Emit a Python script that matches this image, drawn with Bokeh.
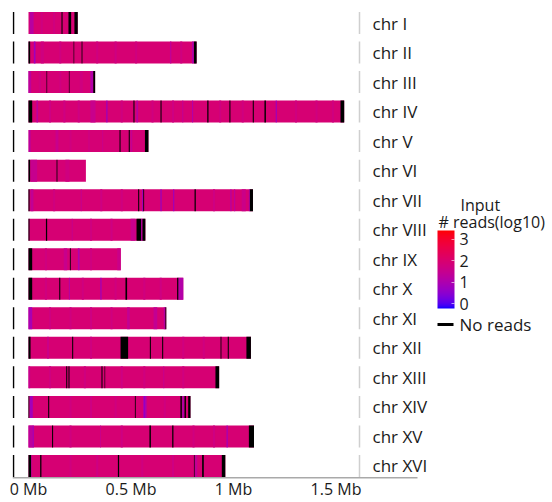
import numpy as np
from bokeh.plotting import figure
from bokeh.models import ColumnDataSource, LinearColorMapper, ColorBar, FixedTicker, Range1d
from bokeh.transform import transform
from bokeh.core.properties import value
from bokeh.embed import file_html
from bokeh.resources import INLINE

NR = float("nan")  # no reads

CHROMS = ["chr I", "chr II", "chr III", "chr IV", "chr V", "chr VI", "chr VII", "chr VIII",
          "chr IX", "chr X", "chr XI", "chr XII", "chr XIII", "chr XIV", "chr XV", "chr XVI"]
CHROM_LEN_KB = [240, 820, 325, 1540, 585, 280, 1095, 570, 450, 755, 672, 1085, 930, 790, 1100, 960]
BASE_LOG10 = [1.95, 1.95, 1.9, 1.95, 1.9, 1.9, 1.95, 1.95, 1.9, 1.95, 1.95, 1.95, 1.95, 1.95, 1.95, 1.95]

# (start kb, end kb, log10 reads); NR = no reads
FEAT_I = [(6, 25, 1.2), (60, 70, 1.75), (120, 130, 1.75), (161, 166, NR), (195, 208, NR), (224, 240, NR)]
FEAT_II = [(0, 8, NR), (26, 34, 0.7), (60, 75, 1.75), (150, 160, 1.75), (220, 223, NR), (259, 263, NR),
           (330, 340, 1.75), (420, 430, 1.7), (520, 530, 1.75), (690, 697, 1.4), (740, 750, 1.75),
           (798, 806, 1.0), (807, 820, NR)]
FEAT_III = [(0, 3, 1.0), (3, 13, 1.3), (50, 60, 1.75), (88, 91, NR), (150, 160, 1.75), (197, 200, NR),
            (250, 265, 1.75), (302, 316, 1.1), (316, 325, NR)]
FEAT_IV = [(0, 18, NR), (39, 46, 1.2), (100, 110, 1.7), (170, 180, 1.7), (240, 250, 1.7), (302, 327, 1.55),
           (380, 385, 0.5), (450, 460, 1.75), (512, 517, NR), (527, 533, 1.0), (600, 610, 1.75), (644, 649, NR),
           (700, 710, 1.7), (750, 755, 1.4), (798, 803, 1.0), (872, 878, NR), (930, 940, 1.75), (980, 985, NR),
           (1040, 1050, 1.75), (1094, 1099, NR), (1151, 1158, NR), (1206, 1211, 0.6), (1300, 1310, 1.75),
           (1400, 1410, 1.75), (1480, 1490, 1.75), (1522, 1540, NR)]
FEAT_V = [(1, 10, 1.2), (132, 146, 1.55), (200, 210, 1.75), (290, 300, 1.75), (360, 364, 1.5), (444, 449, NR),
          (489, 494, NR), (498, 506, 1.45), (568, 585, NR)]
FEAT_VI = [(0, 8, NR), (10, 42, 1.5), (137, 141, NR), (180, 200, 1.75)]
FEAT_VII = [(0, 5, NR), (10, 24, 1.4), (120, 130, 1.75), (255, 259, 1.4), (350, 360, 1.7), (450, 460, 1.75),
            (535, 540, NR), (554, 560, 0.8), (560, 564, NR), (644, 649, 0.5), (706, 711, 0.6), (810, 816, NR),
            (900, 910, 1.7), (985, 990, 1.0), (1003, 1008, 1.2), (1040, 1060, 1.6), (1075, 1080, 1.0),
            (1080, 1095, NR)]
FEAT_VIII = [(0, 5, NR), (85, 91, NR), (211, 215, 1.45), (300, 310, 1.75), (400, 410, 1.7), (498, 522, 1.55),
             (527, 550, NR), (550, 556, 1.0), (556, 570, NR)]
FEAT_IX = [(0, 18, NR), (80, 90, 1.75), (172, 189, 1.55), (202, 206, NR), (241, 249, 1.0), (300, 310, 1.75),
           (433, 450, 1.6)]
FEAT_X = [(0, 18, NR), (80, 90, 1.75), (150, 155, NR), (197, 201, 0.9), (260, 270, 1.75), (351, 356, 0.6),
          (420, 430, 1.75), (473, 481, NR), (560, 570, 1.75), (640, 650, 1.7), (725, 732, NR), (732, 755, 1.1)]
FEAT_XI = [(0, 18, 0.9), (100, 110, 1.75), (200, 210, 1.75), (300, 310, 1.7), (400, 410, 1.75), (481, 494, 1.45),
           (610, 628, 1.45), (660, 668, 1.2), (668, 672, NR)]
FEAT_XII = [(0, 10, NR), (91, 99, 1.55), (213, 218, NR), (300, 310, 1.75), (449, 486, NR), (592, 597, NR),
            (652, 657, NR), (750, 760, 1.75), (850, 860, 1.75), (937, 941, NR), (972, 977, NR), (1063, 1085, NR)]
FEAT_XIII = [(0, 8, 1.5), (100, 110, 1.75), (184, 189, NR), (195, 200, NR), (270, 280, 1.75), (356, 361, NR),
             (371, 374, NR), (450, 460, 1.7), (560, 570, 1.75), (658, 662, 1.4), (750, 760, 1.75), (912, 930, NR)]
FEAT_XIV = [(0, 4, NR), (6, 21, 0.8), (96, 101, NR), (200, 210, 1.75), (300, 310, 1.7), (420, 430, 1.75),
            (519, 523, NR), (559, 576, 1.0), (565, 568, 0.4), (660, 670, 1.75), (741, 748, NR), (751, 758, 0.9),
            (761, 768, NR), (779, 790, NR)]
FEAT_XV = [(0, 26, 1.3), (21, 24, 0.5), (115, 120, NR), (200, 210, 1.75), (349, 353, 1.5), (450, 460, 1.7),
           (590, 597, NR), (701, 707, NR), (800, 810, 1.75), (900, 910, 1.7), (966, 972, 0.8), (1075, 1100, NR)]
FEAT_XVI = [(0, 13, NR), (13, 16, 1.2), (57, 63, NR), (200, 210, 1.75), (330, 340, 1.7), (436, 442, NR),
            (550, 560, 1.75), (700, 710, 1.7), (807, 811, NR), (811, 823, 1.4), (847, 855, NR), (943, 960, NR)]

FEATURES = [FEAT_I, FEAT_II, FEAT_III, FEAT_IV, FEAT_V, FEAT_VI, FEAT_VII, FEAT_VIII,
            FEAT_IX, FEAT_X, FEAT_XI, FEAT_XII, FEAT_XIII, FEAT_XIV, FEAT_XV, FEAT_XVI]

X_TICKS_KB = [0, 500, 1000, 1500]
X_TICK_LABELS = ["0 Mb", "0.5 Mb", "1 Mb", "1.5 Mb"]
CBAR_TICKS = [0, 1, 2, 3]
CBAR_LOW, CBAR_HIGH = -0.23, 3.42

FONT = "Open Sans"

# ---------- Lab-interpolated blue -> red palette ----------
_M = np.array([[0.4124, 0.3576, 0.1805], [0.2126, 0.7152, 0.0722], [0.0193, 0.1192, 0.9505]])
_WHITE = np.array([0.95047, 1.0, 1.08883])


def rgb_to_lab(rgb):
    c = np.asarray(rgb, float) / 255.0
    lin = np.where(c <= 0.04045, c / 12.92, ((c + 0.055) / 1.055) ** 2.4)
    xyz = _M @ lin / _WHITE
    f = np.where(xyz > 0.008856, np.cbrt(xyz), 7.787 * xyz + 16 / 116)
    return np.array([116 * f[1] - 16, 500 * (f[0] - f[1]), 200 * (f[1] - f[2])])


def lab_to_hex(lab):
    L, a, b = lab
    fy = (L + 16) / 116
    fx = fy + a / 500
    fz = fy - b / 200
    f = np.array([fx, fy, fz])
    xyz = np.where(f ** 3 > 0.008856, f ** 3, (f - 16 / 116) / 7.787) * _WHITE
    lin = np.linalg.solve(_M, xyz)
    lin = np.clip(lin, 0, 1)
    c = np.where(lin <= 0.0031308, 12.92 * lin, 1.055 * lin ** (1 / 2.4) - 0.055)
    r, g, bb = (np.clip(c, 0, 1) * 255).round().astype(int)
    return "#%02x%02x%02x" % (r, g, bb)


lab_lo = rgb_to_lab([0, 0, 255])
lab_hi = rgb_to_lab([255, 0, 0])
PALETTE = [lab_to_hex(lab_lo + (lab_hi - lab_lo) * t) for t in np.linspace(0, 1, 256)]

mapper = LinearColorMapper(palette=PALETTE, low=CBAR_LOW, high=CBAR_HIGH, nan_color="black")

# ---------- pixel layout helpers (page pixels) ----------
X0_PX, PX_PER_KB = 28.0, 0.205
ROW0_PX, ROW_PITCH = 22.5, 29.53
N = len(CHROMS)
FRAME_L, FRAME_R, FRAME_T, FRAME_B = 12, 552, 8, 478


def kb_at(px):
    return (px - X0_PX) / PX_PER_KB


def y_at(py):
    return (N - 1) - (py - ROW0_PX) / ROW_PITCH


HALF = 11.0 / ROW_PITCH

p = figure(frame_width=FRAME_R - FRAME_L, frame_height=FRAME_B - FRAME_T,
           min_border_left=FRAME_L, min_border_right=0, min_border_top=FRAME_T, min_border_bottom=0,
           x_range=Range1d(kb_at(FRAME_L), kb_at(FRAME_R)), y_range=Range1d(y_at(FRAME_B), y_at(FRAME_T)),
           y_axis_location=None, output_backend="svg", toolbar_location=None,
           outline_line_color=None, background_fill_color="white", border_fill_color="white")
p.grid.visible = False

ys = [N - 1 - i for i in range(N)]

# base bars
base = ColumnDataSource(dict(left=[0] * N, right=CHROM_LEN_KB, top=[y + HALF for y in ys],
                             bottom=[y - HALF for y in ys], val=BASE_LOG10))
p.quad(left="left", right="right", top="top", bottom="bottom", source=base,
       fill_color=transform("val", mapper), line_color=None)

# features
fl, fr, ft, fb, fv = [], [], [], [], []
for i, feats in enumerate(FEATURES):
    for s, e, v in feats:
        fl.append(s); fr.append(e); ft.append(ys[i] + HALF); fb.append(ys[i] - HALF); fv.append(v)
feat = ColumnDataSource(dict(left=fl, right=fr, top=ft, bottom=fb, val=fv))
p.quad(left="left", right="right", top="top", bottom="bottom", source=feat,
       fill_color=transform("val", mapper), line_color=None)

# left black panel lines and right grey strip lines
p.segment(x0=[kb_at(13)] * N, x1=[kb_at(13)] * N, y0=[y - HALF for y in ys], y1=[y + HALF for y in ys],
          line_color="black", line_width=1.5)
p.segment(x0=[kb_at(359)] * N, x1=[kb_at(359)] * N, y0=[y - HALF for y in ys], y1=[y + HALF for y in ys],
          line_color="#cfcfcf", line_width=1.5)

# chromosome labels
p.text(x=[kb_at(372)] * N, y=ys, text=CHROMS, text_font=value(FONT), text_font_size="17px",
       text_baseline="middle", text_align="left", text_color="#1a1a1a")

# bottom axis line
p.segment(x0=[kb_at(12)], x1=[kb_at(417)], y0=[y_at(477.5)], y1=[y_at(477.5)],
          line_color="#8c8c8c", line_width=1.5)

ax = p.xaxis[0]
ax.ticker = FixedTicker(ticks=X_TICKS_KB)
ax.major_label_overrides = {t: l for t, l in zip(X_TICKS_KB, X_TICK_LABELS)}
ax.axis_line_color = None
ax.major_tick_line_color = None
ax.minor_tick_line_color = None
ax.major_tick_out = 0
ax.major_tick_in = 0
ax.major_label_standoff = -1
ax.major_label_text_font = FONT
ax.major_label_text_font_size = "16px"
ax.major_label_text_color = "#1a1a1a"

# legend
p.text(x=[kb_at(460)], y=[y_at(204)], text=["Input"], text_font=value(FONT), text_font_size="16px",
       text_baseline="middle", text_color="#1a1a1a")
p.text(x=[kb_at(438)], y=[y_at(221)], text=["# reads(log10)"], text_font=value(FONT), text_font_size="16px",
       text_baseline="middle", text_color="#1a1a1a")
cb = ColorBar(color_mapper=mapper, location=(425, 478 - 308), orientation="vertical", width=17, height=78,
              padding=0, ticker=FixedTicker(ticks=CBAR_TICKS), major_label_text_font=FONT,
              major_label_text_font_size="16px", major_label_text_color="#1a1a1a", label_standoff=5,
              major_tick_line_color="white", major_tick_line_alpha=0.6, major_tick_in=3, major_tick_out=0,
              minor_tick_line_color=None, bar_line_color=None, border_line_color=None,
              background_fill_color=None)
p.add_layout(cb)
p.segment(x0=[kb_at(437)], x1=[kb_at(453)], y0=[y_at(324)], y1=[y_at(324)], line_color="black", line_width=3)
p.text(x=[kb_at(459)], y=[y_at(324)], text=["No reads"], text_font=value(FONT), text_font_size="17px",
       text_baseline="middle", text_color="#1a1a1a")

open("out.html", "w").write(file_html(p, INLINE))
